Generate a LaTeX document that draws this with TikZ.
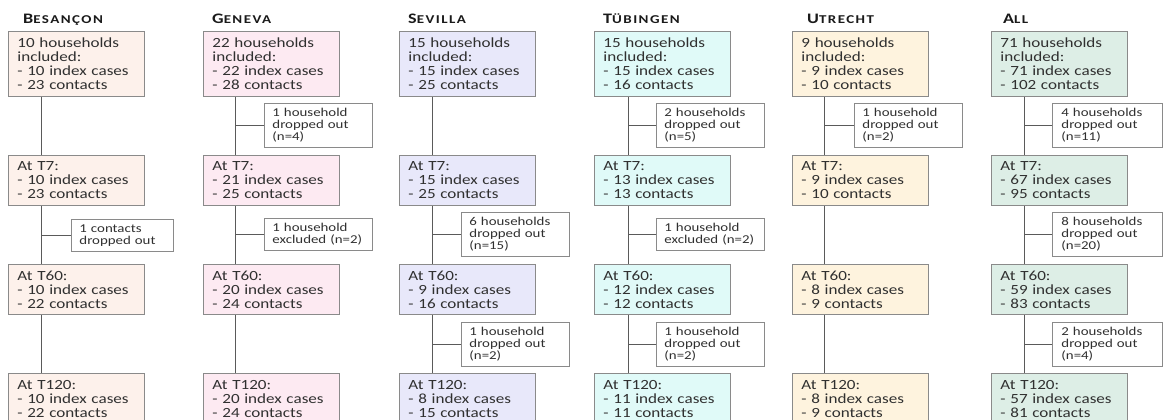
\documentclass[tikz,border=0pt]{standalone}
\usepackage{fontspec}
\setmainfont{Carlito}[FakeStretch=1.22]
\newfontfamily\dropfont{Carlito}[FakeStretch=1.24]
\newfontfamily\headfont{Carlito}[FakeStretch=1.25, LetterSpace=12]
\newcommand\hcaps[2]{{\fontsize{14.5}{12}\selectfont #1}{\fontsize{12}{12}\selectfont #2}}

\definecolor{ink}{HTML}{303030}
\definecolor{headink}{HTML}{1A1A1A}
\definecolor{boxline}{HTML}{8A8A8A}
\definecolor{linkline}{HTML}{5A5A5A}
\definecolor{fillA}{HTML}{FDF1EB}
\definecolor{fillG}{HTML}{FDEAF2}
\definecolor{fillS}{HTML}{E8E8FA}
\definecolor{fillT}{HTML}{E0FAF8}
\definecolor{fillU}{HTML}{FEF3DE}
\definecolor{fillL}{HTML}{DDEEE6}

\tikzset{
  stage/.style={draw=boxline, line width=0.9pt, anchor=north west,
    minimum width=136pt, minimum height=50pt, text width=118pt,
    inner xsep=9pt, inner ysep=0pt, align=left, text=ink,
    font=\fontsize{14}{14}\selectfont},
  laststage/.style={stage, minimum height=52pt},
  firststage/.style={stage, minimum height=65pt},
  drop/.style={draw=boxline, line width=0.9pt, fill=white, anchor=north west,
    minimum width=108pt, minimum height=44pt, text width=92pt,
    inner xsep=8pt, inner ysep=0pt, align=left, text=ink,
    font=\dropfont\fontsize{12}{11.8}\selectfont},
  droptwo/.style={drop, minimum height=32pt},
  head/.style={anchor=base west, inner sep=0pt, text=headink,
    font=\headfont\bfseries},
  link/.style={draw=linkline, line width=1pt},
}

\begin{document}
\begin{tikzpicture}[x=1pt, y=-1pt]
\useasboundingbox (0,0) rectangle (1163,420);
\clip (0,0) rectangle (1163,420);

% ---------------- Besançon ----------------
\node[head] (hA) at (23,24) {\hcaps{B}{ESANÇON}};
\node[firststage, fill=fillA] (A0) at (8,31) {10 households\\included:\\- 10 index cases\\- 23 contacts};
\node[stage, fill=fillA] (A1) at (8,155) {At T7:\\- 10 index cases\\- 23 contacts};
\node[stage, fill=fillA] (A2) at (8,264) {At T60:\\- 10 index cases\\- 22 contacts};
\node[laststage, fill=fillA] (A3) at (8,373) {At T120:\\- 10 index cases\\- 22 contacts};
\node[droptwo, minimum width=102pt, text width=86pt] (Ad2) at (71,219) {1 contacts\\dropped out};
\coordinate (As) at (41,0);

% ---------------- Geneva ----------------
\node[head] (hG) at (212,24) {\hcaps{G}{ENEVA}};
\node[firststage, fill=fillG] (G0) at (203,31) {22 households\\included:\\- 22 index cases\\- 28 contacts};
\node[stage, fill=fillG] (G1) at (203,155) {At T7:\\- 21 index cases\\- 25 contacts};
\node[stage, fill=fillG] (G2) at (203,264) {At T60:\\- 20 index cases\\- 24 contacts};
\node[laststage, fill=fillG] (G3) at (203,373) {At T120:\\- 20 index cases\\- 24 contacts};
\node[drop] (Gd1) at (264,103) {1 household\\dropped out\\(n=4)};
\node[droptwo] (Gd2) at (264,218) {1 household\\excluded (n=2)};
\coordinate (Gs) at (235,0);

% ---------------- Sevilla ----------------
\node[head] (hS) at (408,24) {\hcaps{S}{EVILLA}};
\node[firststage, fill=fillS] (S0) at (399,31) {15 households\\included:\\- 15 index cases\\- 25 contacts};
\node[stage, fill=fillS] (S1) at (399,155) {At T7:\\- 15 index cases\\- 25 contacts};
\node[stage, fill=fillS] (S2) at (399,264) {At T60:\\- 9 index cases\\- 16 contacts};
\node[laststage, fill=fillS] (S3) at (399,373) {At T120:\\- 8 index cases\\- 15 contacts};
\node[drop] (Sd2) at (461,212) {6 households\\dropped out\\(n=15)};
\node[drop] (Sd3) at (461,322) {1 household\\dropped out\\(n=2)};
\coordinate (Ss) at (432,0);

% ---------------- Tübingen ----------------
\node[head] (hT) at (603,24) {\hcaps{T}{ÜBINGEN}};
\node[firststage, fill=fillT] (T0) at (594,31) {15 households\\included:\\- 15 index cases\\- 16 contacts};
\node[stage, fill=fillT] (T1) at (594,155) {At T7:\\- 13 index cases\\- 13 contacts};
\node[stage, fill=fillT] (T2) at (594,264) {At T60:\\- 12 index cases\\- 12 contacts};
\node[laststage, fill=fillT] (T3) at (594,373) {At T120:\\- 11 index cases\\- 11 contacts};
\node[drop] (Td1) at (656,103) {2 households\\dropped out\\(n=5)};
\node[droptwo] (Td2) at (656,218) {1 household\\excluded (n=2)};
\node[drop] (Td3) at (656,322) {1 household\\dropped out\\(n=2)};
\coordinate (Ts) at (628,0);

% ---------------- Utrecht ----------------
\node[head] (hU) at (807,24) {\hcaps{U}{TRECHT}};
\node[firststage, fill=fillU] (U0) at (792,31) {9 households\\included:\\- 9 index cases\\- 10 contacts};
\node[stage, fill=fillU] (U1) at (792,155) {At T7:\\- 9 index cases\\- 10 contacts};
\node[stage, fill=fillU] (U2) at (792,264) {At T60:\\- 8 index cases\\- 9 contacts};
\node[laststage, fill=fillU] (U3) at (792,373) {At T120:\\- 8 index cases\\- 9 contacts};
\node[drop] (Ud1) at (854,103) {1 household\\dropped out\\(n=2)};
\coordinate (Us) at (824,0);

% ---------------- All sites ----------------
\node[head] (hL) at (1003,24) {\hcaps{A}{LL}};
\node[firststage, fill=fillL] (L0) at (991,31) {71 households\\included:\\- 71 index cases\\- 102 contacts};
\node[stage, fill=fillL] (L1) at (991,155) {At T7:\\- 67 index cases\\- 95 contacts};
\node[stage, fill=fillL] (L2) at (991,264) {At T60:\\- 59 index cases\\- 83 contacts};
\node[laststage, fill=fillL] (L3) at (991,373) {At T120:\\- 57 index cases\\- 81 contacts};
\node[drop, minimum width=110pt] (Ld1) at (1052,103) {4 households\\dropped out\\(n=11)};
\node[drop, minimum width=110pt] (Ld2) at (1052,212) {8 households\\dropped out\\(n=20)};
\node[drop, minimum width=110pt] (Ld3) at (1052,322) {2 households\\dropped out\\(n=4)};
\coordinate (Ls) at (1024,0);

% ---------------- spines between the stages ----------------
\foreach \c in {A,G,S,T,U,L}{
  \draw[link] (\c0.south -| \c s) -- (\c1.north -| \c s);
  \draw[link] (\c1.south -| \c s) -- (\c2.north -| \c s);
  \draw[link] (\c2.south -| \c s) -- (\c3.north -| \c s);
}

% ---------------- branches to the drop-out boxes ----------------
\foreach \d/\s in {Ad2/As, Gd1/Gs, Gd2/Gs, Sd2/Ss, Sd3/Ss, Td1/Ts, Td2/Ts, Td3/Ts, Ud1/Us, Ld1/Ls, Ld2/Ls, Ld3/Ls}{
  \draw[link] (\d.west) -- (\d.west -| \s);
}
\end{tikzpicture}
\end{document}
